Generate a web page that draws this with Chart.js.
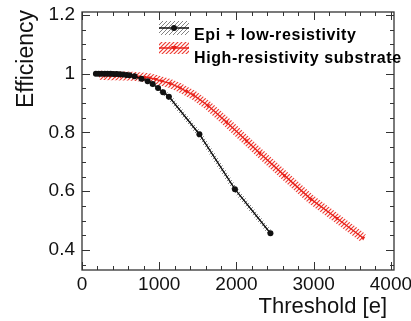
<!DOCTYPE html>
<html>
<head>
<meta charset="utf-8">
<script src="https://cdn.jsdelivr.net/npm/chart.js@4.4.0/dist/chart.umd.min.js"></script>
<style>
  html, body { margin: 0; padding: 0; background: #fff; }
  #wrap { width: 411px; height: 321px; }
</style>
</head>
<body>
<div id="wrap"><canvas id="effChart" width="411" height="321"></canvas></div>
<script>
// values
const epiThreshold = [180, 215, 255, 295, 330, 370, 410, 450, 490, 530, 575, 615, 680, 770, 850, 915, 985, 1050, 1125, 1520, 1980, 2440];
const epiEfficiency = [1.0, 1.0, 1.0, 1.0, 1.0, 1.0, 0.999, 0.999, 0.998, 0.997, 0.996, 0.995, 0.991, 0.983, 0.974, 0.965, 0.951, 0.937, 0.922, 0.794, 0.607, 0.457];

const hrThreshold = [230, 290, 360, 430, 500, 570, 650, 730, 810, 880, 950, 1030, 1140, 1270, 1350, 1440, 1630, 1870, 2130, 2300, 2620, 2960, 3300, 3640];
const hrEfficiency = [0.995, 0.994, 0.993, 0.993, 0.992, 0.992, 0.991, 0.99, 0.988, 0.986, 0.981, 0.975, 0.967, 0.952, 0.94, 0.928, 0.892, 0.836, 0.772, 0.73, 0.654, 0.574, 0.508, 0.441];

const xTicks = [0, 1000, 2000, 3000, 4000];
const yTicks = [0.4, 0.6, 0.8, 1, 1.2];
const seriesLabels = ['Epi + low-resistivity', 'High-resistivity substrate'];
const xTitle = 'Threshold [e]';
const yTitle = 'Efficiency';

const BLACK = '#111';
const RED = '#e8231c';
const FONT = "'Liberation Sans', Arial, sans-serif";

// diagonal hatch used for the error bands
function hatch(color, gap, lw) {
  const c = document.createElement('canvas');
  c.width = gap; c.height = gap;
  const g = c.getContext('2d');
  g.strokeStyle = color;
  g.lineWidth = lw;
  g.beginPath();
  g.moveTo(0, gap); g.lineTo(gap, 0);
  g.moveTo(-1, 1); g.lineTo(1, -1);
  g.moveTo(gap - 1, gap + 1); g.lineTo(gap + 1, gap - 1);
  g.stroke();
  return g.createPattern(c, 'repeat');
}

const toXY = (xs, ys) => xs.map((x, i) => ({ x: x, y: ys[i] }));

const blackHatch = hatch('rgba(30,30,30,0.55)', 4, 1);
const redHatch = hatch('rgba(235,40,30,0.9)', 4, 1.2);

// frame, inward ticks, axis titles and the legend, ROOT style
const rootFrame = {
  id: 'rootFrame',
  afterDraw(chart) {
    const { ctx, chartArea: a, scales: { x, y } } = chart;
    ctx.save();
    ctx.strokeStyle = '#333';
    ctx.lineWidth = 1.3;
    ctx.strokeRect(a.left, a.top, a.right - a.left, a.bottom - a.top);

    ctx.lineWidth = 1;
    ctx.beginPath();
    for (let v = 0; v <= 4000; v += 200) {
      const px = Math.round(x.getPixelForValue(v)) + 0.5;
      const len = v % 1000 === 0 ? 8 : 4;
      ctx.moveTo(px, a.bottom); ctx.lineTo(px, a.bottom - len);
      ctx.moveTo(px, a.top); ctx.lineTo(px, a.top + len);
    }
    for (let k = 7; k <= 24; k++) {
      const v = k * 0.05;
      const py = Math.round(y.getPixelForValue(v)) + 0.5;
      const len = k % 4 === 0 ? 8 : 4;
      ctx.moveTo(a.left, py); ctx.lineTo(a.left + len, py);
      ctx.moveTo(a.right, py); ctx.lineTo(a.right - len, py);
    }
    ctx.stroke();

    // axis titles
    ctx.fillStyle = '#111';
    ctx.font = '22px ' + FONT;
    ctx.textAlign = 'right';
    ctx.textBaseline = 'alphabetic';
    ctx.fillText(xTitle, 387, 313);
    ctx.save();
    ctx.translate(33, 10);
    ctx.rotate(-Math.PI / 2);
    ctx.font = '23px ' + FONT;
    ctx.fillText(yTitle, 0, 0);
    ctx.restore();

    // legend
    const rows = [
      { cy: 28, half: 7, pat: blackHatch, color: BLACK, dot: 'circle', ty: 39.5 },
      { cy: 48, half: 6, pat: redHatch, color: RED, dot: 'triangle', ty: 63 }
    ];
    rows.forEach((r, i) => {
      ctx.fillStyle = r.pat;
      ctx.fillRect(159, r.cy - r.half, 30, r.half * 2);
      ctx.strokeStyle = r.color;
      ctx.lineWidth = 1.5;
      ctx.beginPath();
      ctx.moveTo(159, r.cy); ctx.lineTo(189, r.cy);
      ctx.stroke();
      ctx.fillStyle = r.color;
      ctx.beginPath();
      if (r.dot === 'circle') {
        ctx.arc(174, r.cy, 3, 0, Math.PI * 2);
      } else {
        ctx.moveTo(171, r.cy - 2); ctx.lineTo(177, r.cy - 2); ctx.lineTo(174, r.cy + 3);
      }
      ctx.fill();
      ctx.fillStyle = '#000';
      ctx.font = 'bold 16px ' + FONT;
      ctx.letterSpacing = '0.6px';
      ctx.textAlign = 'left';
      ctx.fillText(seriesLabels[i], 194, r.ty);
      ctx.letterSpacing = '0px';
    });
    ctx.restore();
  }
};

new Chart(document.getElementById('effChart'), {
  type: 'line',
  data: {
    datasets: [
      {
        label: seriesLabels[0],
        data: toXY(epiThreshold, epiEfficiency),
        borderColor: BLACK,
        backgroundColor: BLACK,
        borderWidth: 1.4,
        pointRadius: 3,
        pointBorderWidth: 0,
        fill: false
      },
      {
        label: seriesLabels[1],
        data: toXY(hrThreshold, hrEfficiency),
        borderColor: RED,
        backgroundColor: RED,
        borderWidth: 1.4,
        pointStyle: 'triangle',
        pointRotation: 180,
        pointRadius: 2.5,
        pointBorderWidth: 0,
        fill: false
      },
      {
        label: 'epi band',
        data: toXY(epiThreshold, epiEfficiency),
        borderColor: blackHatch,
        borderWidth: 5,
        pointRadius: 0,
        fill: false
      },
      {
        label: 'hr band',
        data: toXY(hrThreshold, hrEfficiency),
        borderColor: redHatch,
        borderWidth: 9,
        pointRadius: 0,
        fill: false
      }
    ]
  },
  options: {
    responsive: false,
    devicePixelRatio: 1,
    animation: false,
    layout: { padding: { top: 12, right: 17, left: 0, bottom: 0 } },
    plugins: { legend: { display: false }, tooltip: { enabled: false } },
    scales: {
      x: {
        type: 'linear',
        min: 0,
        max: 4040,
        grid: { display: false, drawTicks: false },
        border: { display: false },
        afterBuildTicks: s => { s.ticks = xTicks.map(v => ({ value: v })); },
        afterFit: s => { s.height = 51; s.paddingLeft = 0; s.paddingRight = 0; },
        ticks: {
          padding: 3,
          maxRotation: 0,
          color: '#111',
          font: { family: FONT, size: 19 },
          callback: v => String(v)
        }
      },
      y: {
        type: 'linear',
        min: 0.332,
        max: 1.21,
        grid: { display: false, drawTicks: false },
        border: { display: false },
        afterBuildTicks: s => { s.ticks = yTicks.map(v => ({ value: v })); },
        afterFit: s => { s.width = 82; s.paddingTop = 0; s.paddingBottom = 0; },
        ticks: {
          padding: 7,
          color: '#111',
          font: { family: FONT, size: 19 },
          callback: v => String(Math.round(v * 10) / 10)
        }
      }
    }
  },
  plugins: [rootFrame]
});
</script>
</body>
</html>
